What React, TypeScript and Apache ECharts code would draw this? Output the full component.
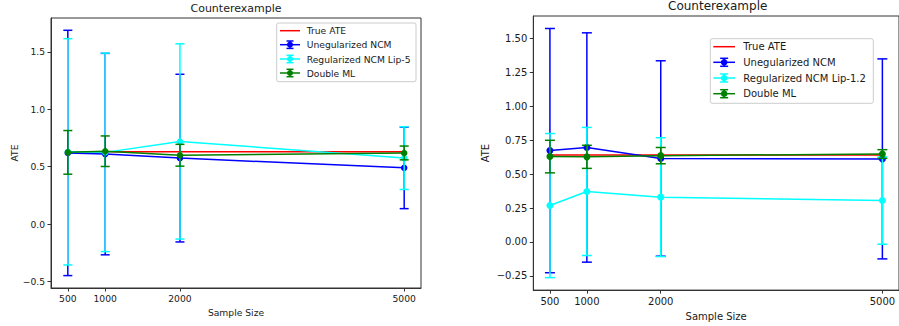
import React, { useEffect, useRef } from "react";
import * as echarts from "echarts";

// ---------- data ----------
const SAMPLE_SIZES = [500, 1000, 2000, 5000];

const LEFT_TITLE = "Counterexample";
const LEFT_TRUE_ATE = [0.63, 0.63, 0.63, 0.63];
const LEFT_UNREG_MEAN = [0.62, 0.61, 0.575, 0.49];
const LEFT_UNREG_ERR = [1.068, 0.877, 0.73, 0.355];
const LEFT_REG_MEAN = [0.63, 0.625, 0.72, 0.575];
const LEFT_REG_ERR = [0.985, 0.864, 0.85, 0.273];
const LEFT_DML_MEAN = [0.625, 0.635, 0.6, 0.62];
const LEFT_DML_ERR = [0.19, 0.133, 0.095, 0.06];
const LEFT_LEGEND = ["True ATE", "Unegularized NCM", "Regularized NCM Lip-5", "Double ML"];
const LEFT_Y_TICKS = [-0.5, 0, 0.5, 1.0, 1.5];

const RIGHT_TITLE = "Counterexample";
const RIGHT_TRUE_ATE = [0.64, 0.64, 0.64, 0.64];
const RIGHT_UNREG_MEAN = [0.673, 0.696, 0.615, 0.612];
const RIGHT_UNREG_ERR = [0.9, 0.845, 0.72, 0.737];
const RIGHT_REG_MEAN = [0.268, 0.372, 0.33, 0.305];
const RIGHT_REG_ERR = [0.531, 0.472, 0.438, 0.322];
const RIGHT_DML_MEAN = [0.629, 0.627, 0.636, 0.648];
const RIGHT_DML_ERR = [0.12, 0.085, 0.06, 0.032];
const RIGHT_LEGEND = ["True ATE", "Unegularized NCM", "Regularized NCM Lip-1.2", "Double ML"];
const RIGHT_Y_TICKS = [-0.25, 0, 0.25, 0.5, 0.75, 1.0, 1.25, 1.5];

const X_LABEL = "Sample Size";
const Y_LABEL = "ATE";

const COLORS = ["#ff0000", "#0000ff", "#00ffff", "#008000"];
const FONT = "DejaVu Sans";
const TEXT_COLOR = "#1a1a1a";
const SPINE = "#333";

// ---------- helpers ----------
function fmtTick(v: number, dec: number) {
  const s = Math.abs(v).toFixed(dec);
  return v < 0 ? "\u2212" + s : s;
}

function errorSeries(idx: number, name: string, means: number[], errs: number[], color: string, capHalf: number, z: number) {
  return {
    type: "custom",
    name,
    xAxisIndex: idx,
    yAxisIndex: idx,
    z,
    silent: true,
    data: SAMPLE_SIZES.map((x, i) => [x, means[i], errs[i]]),
    encode: { x: 0, y: 1 },
    renderItem: (_params: any, api: any) => {
      const x = api.value(0);
      const m = api.value(1);
      const e = api.value(2);
      const t = api.coord([x, m + e]);
      const b = api.coord([x, m - e]);
      const style = { stroke: color, lineWidth: 1.5, fill: null };
      return {
        type: "group",
        children: [
          { type: "line", shape: { x1: t[0], y1: t[1], x2: b[0], y2: b[1] }, style },
          { type: "line", shape: { x1: t[0] - capHalf, y1: t[1], x2: t[0] + capHalf, y2: t[1] }, style },
          { type: "line", shape: { x1: b[0] - capHalf, y1: b[1], x2: b[0] + capHalf, y2: b[1] }, style },
        ],
      };
    },
  };
}

function lineSeries(idx: number, name: string, values: number[], color: string, symbolSize: number, z: number, withSymbol: boolean) {
  return {
    type: "line",
    name,
    xAxisIndex: idx,
    yAxisIndex: idx,
    z,
    silent: true,
    data: SAMPLE_SIZES.map((x, i) => [x, values[i]]),
    symbol: withSymbol ? "circle" : "none",
    symbolSize,
    showSymbol: withSymbol,
    lineStyle: { color, width: 1.5 },
    itemStyle: { color, borderWidth: 0 },
  };
}

function legendGraphics(cfg: any, labels: string[]) {
  const children: any[] = [];
  children.push({
    type: "rect",
    shape: { x: cfg.x, y: cfg.y, width: cfg.w, height: cfg.h, r: 2 },
    style: { fill: "rgba(255,255,255,0.8)", stroke: "#cccccc", lineWidth: 1 },
    z: 100,
  });
  labels.forEach((lab, i) => {
    const y = cfg.rows[i];
    const color = COLORS[i];
    const mid = (cfg.hx0 + cfg.hx1) / 2;
    children.push({
      type: "line",
      shape: { x1: cfg.hx0, y1: y, x2: cfg.hx1, y2: y },
      style: { stroke: color, lineWidth: 1.5 },
      z: 101,
    });
    if (i > 0) {
      const st = { stroke: color, lineWidth: 1.5 };
      children.push({ type: "line", shape: { x1: mid, y1: y - cfg.bh, x2: mid, y2: y + cfg.bh }, style: st, z: 101 });
      children.push({ type: "line", shape: { x1: mid - cfg.cap, y1: y - cfg.bh, x2: mid + cfg.cap, y2: y - cfg.bh }, style: st, z: 101 });
      children.push({ type: "line", shape: { x1: mid - cfg.cap, y1: y + cfg.bh, x2: mid + cfg.cap, y2: y + cfg.bh }, style: st, z: 101 });
      children.push({ type: "circle", shape: { cx: mid, cy: y, r: cfg.r }, style: { fill: color }, z: 102 });
    }
    children.push({
      type: "text",
      x: cfg.tx,
      y,
      style: { text: lab, fill: TEXT_COLOR, font: `${cfg.fs}px "${FONT}"`, textVerticalAlign: "middle", textAlign: "left" },
      z: 103,
    });
  });
  return children;
}

function buildOption() {
  const panels = [
    {
      grid: { left: 51, top: 18, width: 370, height: 270 },
      yMin: -0.556, yMax: 1.795, ticks: LEFT_Y_TICKS, dec: 1, fs: 9.2, tfs: 11,
      title: LEFT_TITLE, titleX: 236, titleTop: 2.5,
      nameGapY: 31, nameGapX: 17, ms: 6.5, cap: 4.5,
      trueAte: LEFT_TRUE_ATE,
      series: [[LEFT_UNREG_MEAN, LEFT_UNREG_ERR], [LEFT_REG_MEAN, LEFT_REG_ERR], [LEFT_DML_MEAN, LEFT_DML_ERR]],
      labels: LEFT_LEGEND,
      legend: { x: 276.7, y: 23, w: 139.3, h: 58.7, rows: [30.7, 44.7, 59, 73], hx0: 280, hx1: 300, tx: 306.7, fs: 9.2, bh: 3.7, cap: 3.5, r: 3 },
    },
    {
      grid: { left: 533.3, top: 16, width: 368.1, height: 274.7 },
      yMin: -0.355, yMax: 1.665, ticks: RIGHT_Y_TICKS, dec: 2, fs: 10, tfs: 12,
      title: RIGHT_TITLE, titleX: 717.7, titleTop: 0,
      nameGapY: 43, nameGapX: 20, ms: 7, cap: 5,
      trueAte: RIGHT_TRUE_ATE,
      series: [[RIGHT_UNREG_MEAN, RIGHT_UNREG_ERR], [RIGHT_REG_MEAN, RIGHT_REG_ERR], [RIGHT_DML_MEAN, RIGHT_DML_ERR]],
      labels: RIGHT_LEGEND,
      legend: { x: 710.3, y: 38.7, w: 163, h: 64.6, rows: [46.7, 62.3, 78, 93.7], hx0: 713.3, hx1: 735, tx: 743.3, fs: 10, bh: 4, cap: 4, r: 3.3 },
    },
  ];

  const grid: any[] = [];
  const xAxis: any[] = [];
  const yAxis: any[] = [];
  const title: any[] = [];
  const series: any[] = [];
  const graphic: any[] = [];

  panels.forEach((p, idx) => {
    grid.push({ ...p.grid, show: true, borderColor: SPINE, borderWidth: 1, backgroundColor: "#fff", containLabel: false });
    xAxis.push({
      type: "value",
      gridIndex: idx,
      min: 275,
      max: 5225,
      name: X_LABEL,
      nameLocation: "middle",
      nameGap: p.nameGapX,
      nameTextStyle: { fontFamily: FONT, fontSize: p.fs, color: TEXT_COLOR },
      axisLine: { show: true, onZero: false, lineStyle: { color: SPINE, width: 1 } },
      axisTick: { show: true, inside: false, length: 3.5, customValues: SAMPLE_SIZES, lineStyle: { color: SPINE, width: 1 } },
      axisLabel: { show: true, margin: 6, customValues: SAMPLE_SIZES, fontFamily: FONT, fontSize: p.fs, color: TEXT_COLOR, formatter: (v: number) => String(v) },
      splitLine: { show: false },
    });
    yAxis.push({
      type: "value",
      gridIndex: idx,
      min: p.yMin,
      max: p.yMax,
      name: Y_LABEL,
      nameLocation: "middle",
      nameGap: p.nameGapY,
      nameTextStyle: { fontFamily: FONT, fontSize: p.fs, color: TEXT_COLOR },
      axisLine: { show: true, onZero: false, lineStyle: { color: SPINE, width: 1 } },
      axisTick: { show: true, inside: false, length: 3.5, customValues: p.ticks, lineStyle: { color: SPINE, width: 1 } },
      axisLabel: { show: true, margin: 6, customValues: p.ticks, fontFamily: FONT, fontSize: p.fs, color: TEXT_COLOR, formatter: (v: number) => fmtTick(v, p.dec) },
      splitLine: { show: false },
    });
    title.push({
      text: p.title,
      left: p.titleX,
      top: p.titleTop,
      textAlign: "center",
      padding: 0,
      textStyle: { fontFamily: FONT, fontSize: p.tfs, fontWeight: "normal", color: TEXT_COLOR },
    });
    series.push(lineSeries(idx, p.labels[0], p.trueAte, COLORS[0], 0, 2, false));
    p.series.forEach(([m, e], k) => {
      const color = COLORS[k + 1];
      series.push(errorSeries(idx, p.labels[k + 1] + " error", m, e, color, p.cap, 3 + k * 2));
      series.push(lineSeries(idx, p.labels[k + 1], m, color, p.ms, 4 + k * 2, true));
    });
    graphic.push({ type: "group", children: legendGraphics(p.legend, p.labels) });
  });

  return {
    animation: false,
    backgroundColor: "#fff",
    title,
    grid,
    xAxis,
    yAxis,
    series,
    graphic,
  };
}

export default function App() {
  const ref = useRef<HTMLDivElement>(null);
  useEffect(() => {
    if (!ref.current) return;
    const chart = echarts.init(ref.current, null, { renderer: "svg" });
    chart.setOption(buildOption() as any);
    return () => chart.dispose();
  }, []);
  return (
    <div
      ref={ref}
      style={{ position: "absolute", left: 0, top: 0, width: 899, height: 326, background: "#fff" }}
    />
  );
}
